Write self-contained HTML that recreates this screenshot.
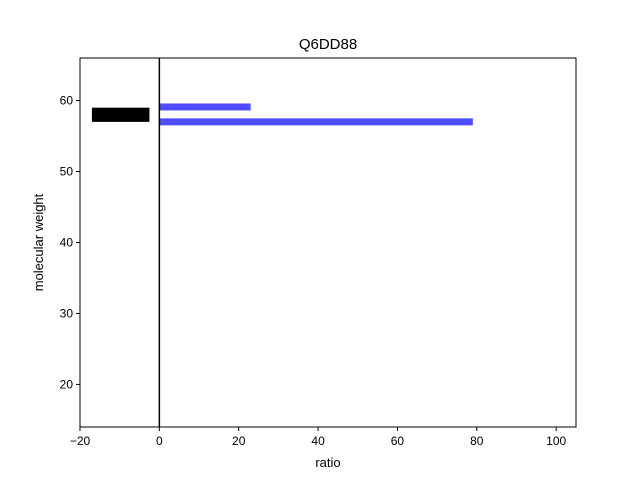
<!DOCTYPE html>
<html><head><meta charset="utf-8"><style>body{margin:0;background:#fff}svg{font-family:"Liberation Sans",sans-serif}</style></head>
<body>
<svg id="c" width="640" height="480"></svg>
<script>
const xTicks=[-20,0,20,40,60,80,100];
const yTicks=[20,30,40,50,60];
const barLabels=["band-1","band-2"];
const barY=[59.1,57.0];
const barX=[23,79];
const boxX=[-17,-2.5];
const boxY=[57,59];
const L=80,R=576,T=58,B=427,x0=-20,x1=105,y0=14,y1=66;
const sx=v=>L+(v-x0)/(x1-x0)*(R-L);
const sy=v=>B-(v-y0)/(y1-y0)*(B-T);
const svg=document.getElementById('c');
const NS='http://www.w3.org/2000/svg';
function mk(t,a,txt){const e=document.createElementNS(NS,t);for(const k in a)e.setAttribute(k,a[k]);if(txt!=null)e.textContent=txt;svg.appendChild(e);return e;}
let e;
e=mk('rect',{x:L,y:T,width:R-L,height:B-T,fill:'#fff',stroke:'#000','stroke-width':1});


e=mk('rect',{x:sx(boxX[0]),y:sy(boxY[1]),width:sx(boxX[1])-sx(boxX[0]),height:sy(boxY[0])-sy(boxY[1]),fill:'#000'});


barY.forEach((v,i)=>{
 const h=7;
 const r=mk('rect',{x:sx(0),y:sy(v)-h/2,width:sx(barX[i])-sx(0),height:h,fill:'#4d4dff'});
 
 
});
e=mk('line',{x1:sx(0),x2:sx(0),y1:T,y2:B,stroke:'#000','stroke-width':1.5});


xTicks.forEach(v=>{
 mk('line',{x1:sx(v),x2:sx(v),y1:B,y2:B+4,stroke:'#000'});
 const t=mk('text',{x:sx(v),y:B+18,'font-size':12,'text-anchor':'middle'},v<0?'\u2212'+(-v):String(v));
 
 
});
yTicks.forEach(v=>{
 mk('line',{x1:L-4,x2:L,y1:sy(v),y2:sy(v),stroke:'#000'});
 const t=mk('text',{x:L-7,y:sy(v)+4,'font-size':12,'text-anchor':'end'},String(v));
 
 
});
e=mk('text',{x:(L+R)/2,y:467,'font-size':13,'text-anchor':'middle'},'ratio');


e=mk('text',{x:43,y:(T+B)/2,'font-size':13,'text-anchor':'middle',transform:`rotate(-90 43 ${(T+B)/2})`},'molecular weight');


e=mk('text',{x:(L+R)/2,y:49,'font-size':15,'text-anchor':'middle'},'Q6DD88');


</script>
</body></html>
